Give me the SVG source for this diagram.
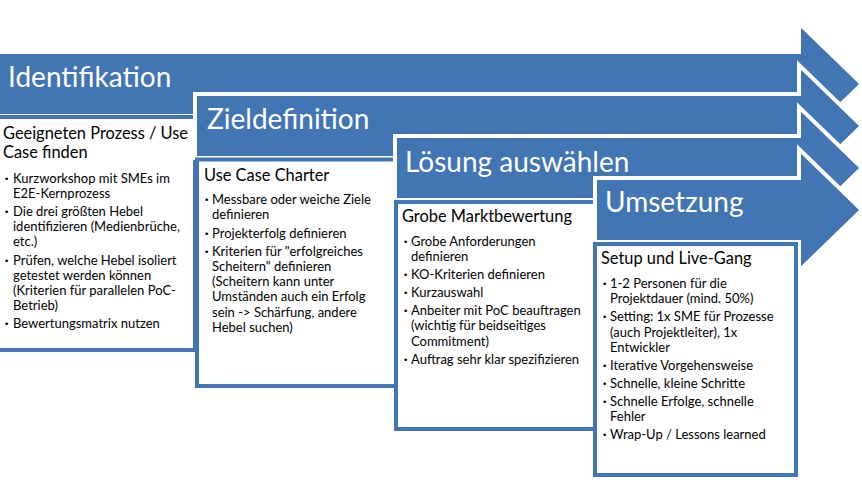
<svg xmlns="http://www.w3.org/2000/svg" width="862" height="498" viewBox="0 0 862 498">
<style>
.arrow{fill:#4275B3;stroke:#fff;stroke-width:4;stroke-linejoin:miter}
.box{fill:#fff;stroke:#4275B3;stroke-width:4}
.lbl{font-family:Lato,"Open Sans",sans-serif;font-size:28px;fill:#fff}
.hd{font-family:Lato,"Open Sans",sans-serif;font-size:16.4px;fill:#000}
.bl{font-family:Lato,"Open Sans",sans-serif;font-size:13px;fill:#000}
.dot{font-family:"DejaVu Sans",sans-serif;font-size:9px;fill:#000}
</style>
<rect width="862" height="498" fill="#fff"/>
<g id="stage-identifikation">
<path class="arrow" d="M-5 52 H799 V23 L862 84 L799 145 V116 H-5 Z"/>
<text class="lbl" x="8" y="87">Identifikation</text>
<rect class="box" x="-5" y="117" width="200" height="233"/>
<text class="hd"><tspan x="3" y="139">Geeigneten Prozess / Use</tspan><tspan x="3" y="158">Case finden</tspan></text>
<text class="dot"><tspan x="4" y="181.5">•</tspan><tspan x="4" y="215">•</tspan><tspan x="4" y="264">•</tspan><tspan x="4" y="327">•</tspan></text>
<text class="bl">
<tspan x="13" y="182.5">Kurzworkshop mit SMEs im</tspan>
<tspan x="13" y="197.5">E2E-Kernprozess</tspan>
<tspan x="13" y="216">Die drei größten Hebel</tspan>
<tspan x="13" y="231">identifizieren (Medienbrüche,</tspan>
<tspan x="13" y="246">etc.)</tspan>
<tspan x="13" y="265">Prüfen, welche Hebel isoliert</tspan>
<tspan x="13" y="280">getestet werden können</tspan>
<tspan x="13" y="295">(Kriterien für parallelen PoC-</tspan>
<tspan x="13" y="310">Betrieb)</tspan>
<tspan x="13" y="328">Bewertungsmatrix nutzen</tspan>
</text>
</g>
<g id="stage-zieldefinition">
<path class="arrow" d="M195 94 H799 V65 L862 126 L799 187 V158 H195 Z"/>
<text class="lbl" x="207" y="129">Zieldefinition</text>
<rect class="box" x="197" y="159.5" width="199" height="226.5"/>
<text class="hd" x="204" y="181">Use Case Charter</text>
<text class="dot"><tspan x="204" y="203">•</tspan><tspan x="204" y="237">•</tspan><tspan x="204" y="255">•</tspan></text>
<text class="bl">
<tspan x="212" y="204">Messbare oder weiche Ziele</tspan>
<tspan x="212" y="219">definieren</tspan>
<tspan x="212" y="238">Projekterfolg definieren</tspan>
<tspan x="212" y="256">Kriterien für "erfolgreiches</tspan>
<tspan x="212" y="271">Scheitern" definieren</tspan>
<tspan x="212" y="286">(Scheitern kann unter</tspan>
<tspan x="212" y="301">Umständen auch ein Erfolg</tspan>
<tspan x="212" y="317">sein -&gt; Schärfung, andere</tspan>
<tspan x="212" y="332">Hebel suchen)</tspan>
</text>
</g>
<g id="stage-loesung">
<path class="arrow" d="M395 136 H799 V107 L862 168 L799 229 V200 H395 Z"/>
<text class="lbl" x="405" y="172">Lösung auswählen</text>
<rect class="box" x="396" y="202" width="199" height="227"/>
<text class="hd" x="402" y="222">Grobe Marktbewertung</text>
<text class="dot"><tspan x="403" y="245">•</tspan><tspan x="403" y="278">•</tspan><tspan x="403" y="296">•</tspan><tspan x="403" y="314">•</tspan><tspan x="403" y="363">•</tspan></text>
<text class="bl">
<tspan x="411" y="246">Grobe Anforderungen</tspan>
<tspan x="411" y="261">definieren</tspan>
<tspan x="411" y="279">KO-Kriterien definieren</tspan>
<tspan x="411" y="297">Kurzauswahl</tspan>
<tspan x="411" y="315">Anbeiter mit PoC beauftragen</tspan>
<tspan x="411" y="330">(wichtig für beidseitiges</tspan>
<tspan x="411" y="346">Commitment)</tspan>
<tspan x="411" y="364">Auftrag sehr klar spezifizieren</tspan>
</text>
</g>
<g id="stage-umsetzung">
<path class="arrow" d="M595 178 H799 V149 L862 210 L799 271 V242 H595 Z"/>
<text class="lbl" x="605" y="212">Umsetzung</text>
<rect class="box" x="595" y="244" width="201" height="231"/>
<text class="hd" x="601" y="264">Setup und Live-Gang</text>
<text class="dot"><tspan x="602" y="287">•</tspan><tspan x="602" y="320">•</tspan><tspan x="602" y="369">•</tspan><tspan x="602" y="387">•</tspan><tspan x="602" y="405">•</tspan><tspan x="602" y="438">•</tspan></text>
<text class="bl">
<tspan x="610" y="288">1-2 Personen für die</tspan>
<tspan x="610" y="303">Projektdauer (mind. 50%)</tspan>
<tspan x="610" y="321">Setting: 1x SME für Prozesse</tspan>
<tspan x="610" y="337">(auch Projektleiter), 1x</tspan>
<tspan x="610" y="352">Entwickler</tspan>
<tspan x="610" y="370">Iterative Vorgehensweise</tspan>
<tspan x="610" y="388">Schnelle, kleine Schritte</tspan>
<tspan x="610" y="406">Schnelle Erfolge, schnelle</tspan>
<tspan x="610" y="421">Fehler</tspan>
<tspan x="610" y="439">Wrap-Up / Lessons learned</tspan>
</text>
</g>
</svg>
